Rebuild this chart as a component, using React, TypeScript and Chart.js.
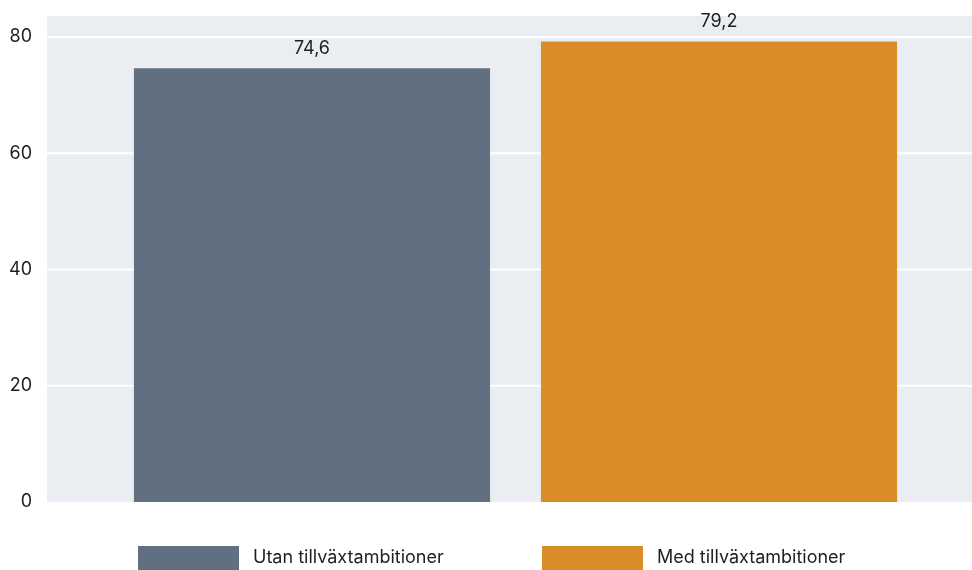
import React, { useEffect, useRef } from "react";
import { Chart, registerables } from "chart.js";

Chart.register(...registerables);

const categories = ["Andel"];
const seriesNames = ["Utan tillväxtambitioner", "Med tillväxtambitioner"];
const seriesValues = [74.6, 79.2];
const yTickValues = [0, 20, 40, 60, 80];

const seriesColors = ["#607080", "#d98d29"];
const FONT = "Inter, 'Noto Sans', sans-serif";
const BG = "#eaedf2";
const TEXT = "#1f1f1f";

const fmt = (v: number) => v.toFixed(1).replace(".", ",");

export default function App() {
  const ref = useRef<HTMLCanvasElement | null>(null);

  useEffect(() => {
    if (!ref.current) return;

    const bgPlugin = {
      id: "bgGrid",
      beforeDatasetsDraw(chart: any) {
        const { ctx, chartArea, scales } = chart;
        const left = 47;
        ctx.save();
        ctx.fillStyle = BG;
        ctx.fillRect(left, chartArea.top, chartArea.right - left, chartArea.bottom - chartArea.top);
        ctx.strokeStyle = "#ffffff";
        ctx.lineWidth = 2;
        yTickValues.forEach((v) => {
          if (v === 0) return;
          const y = scales.y.getPixelForValue(v);
          ctx.beginPath();
          ctx.moveTo(left, y);
          ctx.lineTo(chartArea.right, y);
          ctx.stroke();
        });
        ctx.restore();
      },
      afterDatasetsDraw(chart: any) {
        const { ctx } = chart;
        ctx.save();
        ctx.font = `18px ${FONT}`;
        ctx.fillStyle = TEXT;
        ctx.textAlign = "center";
        ctx.textBaseline = "middle";
        chart.data.datasets.forEach((ds: any, i: number) => {
          const meta = chart.getDatasetMeta(i);
          meta.data.forEach((bar: any, j: number) => {
            ctx.fillText(fmt(ds.data[j]), bar.x, bar.y - 20);
          });
        });
        ctx.restore();
      },
      afterDraw(chart: any) {
        const { ctx } = chart;
        ctx.save();
        ctx.font = `18px ${FONT}`;
        ctx.textBaseline = "middle";
        ctx.textAlign = "left";
        const starts = [138, 542];
        chart.data.datasets.forEach((ds: any, i: number) => {
          const x = starts[i];
          ctx.fillStyle = ds.backgroundColor;
          ctx.fillRect(x, 546, 101, 24);
          ctx.fillStyle = TEXT;
          ctx.fillText(ds.label, x + 115, 558);
        });
        ctx.restore();
      },
    };

    const chart = new Chart(ref.current, {
      type: "bar",
      data: {
        labels: categories,
        datasets: seriesNames.map((name, i) => ({
          label: name,
          data: [seriesValues[i]],
          backgroundColor: seriesColors[i],
          borderWidth: 0,
          categoryPercentage: 0.8916,
          barPercentage: 0.875,
        })),
      },
      options: {
        animation: false,
        responsive: false,
        maintainAspectRatio: false,
        layout: { padding: { top: 16, bottom: 68, left: 0, right: 0 } },
        plugins: {
          legend: { display: false },
          tooltip: { enabled: false },
        },
        scales: {
          x: { display: false },
          y: {
            min: 0,
            max: 83.6,
            border: { display: false },
            grid: { display: false, drawTicks: true, tickLength: 27 },
            afterFit(scale: any) {
              scale.width = 59;
            },
            afterBuildTicks(scale: any) {
              scale.ticks = yTickValues.map((v) => ({ value: v }));
            },
            ticks: {
              padding: 0,
              color: TEXT,
              font: { family: FONT, size: 18 },
              callback: (v: any) => String(v),
            },
          },
        },
      },
      plugins: [bgPlugin],
    });

    return () => chart.destroy();
  }, []);

  return (
    <div style={{ position: "absolute", left: 0, top: 0, width: 972, height: 570, background: "#fff" }}>
      <canvas ref={ref} width={972} height={570} style={{ display: "block", width: 972, height: 570 }} />
    </div>
  );
}
